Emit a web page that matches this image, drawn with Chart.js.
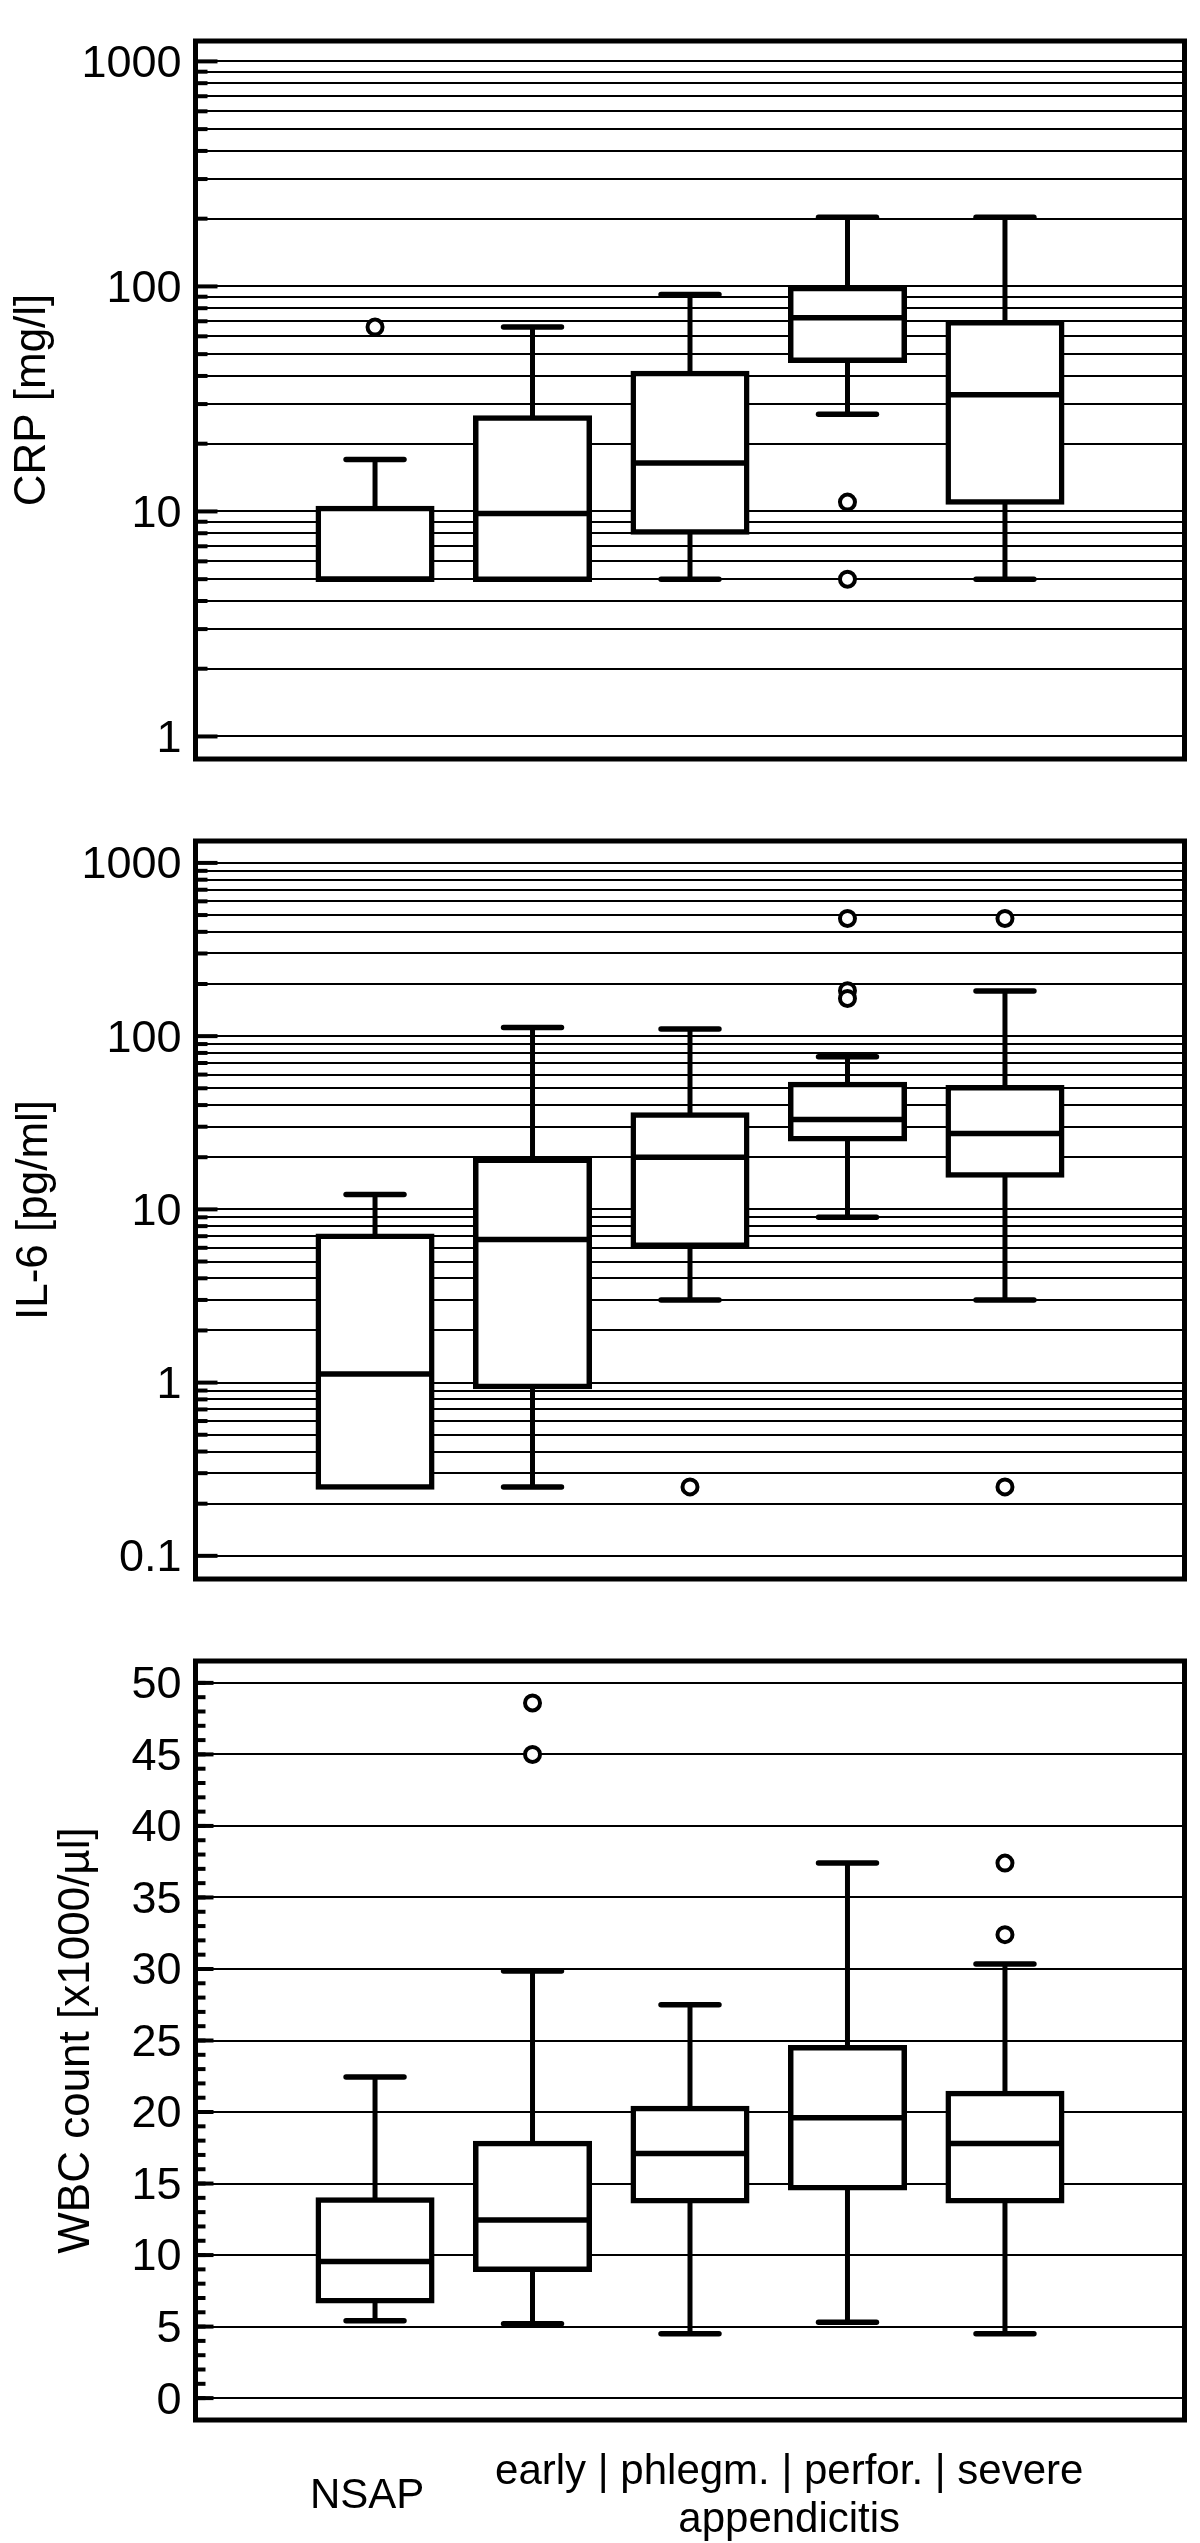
<!DOCTYPE html>
<html>
<head>
<meta charset="utf-8">
<title>CRP, IL-6 and WBC count</title>
<script src="https://cdn.jsdelivr.net/npm/chart.js@4"></script>
<style>
  body { margin: 0; background: #fff; }
  canvas { display: block; }
</style>
</head>
<body>
<canvas id="crp" width="1200" height="800"></canvas>
<canvas id="il6" width="1200" height="820"></canvas>
<canvas id="wbc" width="1200" height="923"></canvas>
<script>
// groups, left to right (x = 1..5)
const groups = ['NSAP', 'early', 'phlegm.', 'perfor.', 'severe'];

// CRP [mg/l]
const crpLow = [5, 5, 5, 27, 5];
const crpQ1 = [5, 5, 8.1, 47, 11];
const crpMed = [5, 9.8, 16.4, 72.5, 33];
const crpQ3 = [10.3, 26, 41, 98, 69];
const crpHigh = [17, 66, 92, 203, 203];
const crpOut = [[66], [], [], [11, 5], []];
const crpTicks = [1, 10, 100, 1000];

// IL-6 [pg/ml]
const il6Low = [0.25, 0.25, 3.0, 9.0, 3.0];
const il6Q1 = [0.25, 0.95, 6.2, 25.6, 15.8];
const il6Med = [1.12, 6.7, 20, 33, 27.4];
const il6Q3 = [7.0, 19.2, 35, 52.5, 50.4];
const il6High = [12.2, 112, 110, 76, 182];
const il6Out = [[], [], [0.25], [478, 183, 165], [478, 0.25]];
const il6Ticks = [0.1, 1, 10, 100, 1000];

// WBC count [x1000/µl]
const wbcLow = [5.4, 5.2, 4.5, 5.3, 4.5];
const wbcQ1 = [6.8, 9.0, 13.8, 14.7, 13.8];
const wbcMed = [9.55, 12.45, 17.1, 19.6, 17.8];
const wbcQ3 = [13.85, 17.8, 20.25, 24.5, 21.3];
const wbcHigh = [22.45, 29.85, 27.5, 37.4, 30.35];
const wbcOut = [[], [48.6, 45], [], [], [37.4, 32.4]];
const wbcTicks = [0, 5, 10, 15, 20, 25, 30, 35, 40, 45, 50];

// x axis labels (bottom panel only)
const xLabels = ['NSAP', ['early | phlegm. | perfor. | severe', 'appendicitis']];
const xLabelAt = [0.95, 3.63];
const xMin = -0.14, xMax = 6.14;

Chart.defaults.font.family = "'Liberation Sans', Arial, sans-serif";
Chart.defaults.color = '#000';

// 1..9 x each decade, for the log gridlines
function logGrid(decades) {
  const out = [];
  decades.forEach((d, k) => {
    if (k === decades.length - 1) { out.push(d); return; }
    for (let n = 1; n <= 9; n++) out.push(Number((n * d).toPrecision(6)));
  });
  return out;
}

function seg(ctx, x1, y1, x2, y2) {
  ctx.beginPath();
  ctx.moveTo(x1, y1);
  ctx.lineTo(x2, y2);
  ctx.stroke();
}

// whiskers, medians, inner ticks and the frame
const boxPlugin = {
  id: 'boxplot',
  afterDatasetsDraw(chart, args, o) {
    const {ctx, scales: {x, y}} = chart;
    const bars = chart.getDatasetMeta(0).data;
    ctx.save();
    ctx.strokeStyle = '#000';
    o.med.forEach((m, i) => {
      const cx = x.getPixelForValue(i + 1);
      const hw = bars[i].width / 2;
      const yHi = y.getPixelForValue(o.hi[i]);
      const yQ3 = y.getPixelForValue(o.q3[i]);
      const yQ1 = y.getPixelForValue(o.q1[i]);
      const yLo = y.getPixelForValue(o.lo[i]);
      ctx.lineCap = 'butt';
      ctx.lineWidth = 5;
      seg(ctx, cx, yHi, cx, yQ3);
      seg(ctx, cx, yQ1, cx, yLo);
      ctx.lineCap = 'round';
      ctx.lineWidth = 5.5;
      if (o.hi[i] > o.q3[i]) seg(ctx, cx - hw * 0.51, yHi, cx + hw * 0.51, yHi);
      if (o.lo[i] < o.q1[i]) seg(ctx, cx - hw * 0.51, yLo, cx + hw * 0.51, yLo);
      ctx.lineCap = 'butt';
      const ym = y.getPixelForValue(m);
      seg(ctx, cx - hw, ym, cx + hw, ym);
    });
    ctx.restore();
  },
  afterDraw(chart, args, o) {
    const {ctx, chartArea: a, scales: {y}} = chart;
    ctx.save();
    ctx.strokeStyle = '#000';
    ctx.lineWidth = 4;
    const tickAt = (v, len) => {
      const py = y.getPixelForValue(v);
      seg(ctx, a.left, py, a.left + len, py);
    };
    if (o.minorStep) {
      const first = o.labels[0], last = o.labels[o.labels.length - 1];
      for (let v = first; v <= last; v += o.minorStep) tickAt(v, o.minorLen);
    } else {
      y.ticks.forEach(t => { if (!o.labels.includes(t.value)) tickAt(t.value, o.minorLen); });
    }
    o.labels.forEach(v => tickAt(v, o.majorLen));
    ctx.lineWidth = 5;
    ctx.strokeRect(a.left, a.top, a.right - a.left, a.bottom - a.top);
    ctx.restore();
  }
};

function makePanel(id, p) {
  new Chart(document.getElementById(id), {
    type: 'bar',
    data: {
      datasets: [
        {
          data: p.q1.map((v, i) => ({x: i + 1, y: [v, p.q3[i]]})),
          backgroundColor: '#fff',
          borderColor: '#000',
          borderWidth: 5.5,
          borderSkipped: false,
          inflateAmount: 2.75,
          barPercentage: 0.721,
          categoryPercentage: 1,
          order: 2
        },
        {
          type: 'line',
          data: p.out.flatMap((vals, i) => vals.map(v => ({x: i + 1, y: v}))),
          showLine: false,
          pointRadius: 7.5,
          pointBorderWidth: 4,
          pointBackgroundColor: '#fff',
          pointBorderColor: '#000',
          order: 1
        }
      ]
    },
    options: {
      responsive: false,
      animation: false,
      layout: { padding: p.pad },
      plugins: {
        legend: { display: false },
        tooltip: { enabled: false },
        boxplot: {
          lo: p.lo, q1: p.q1, med: p.med, q3: p.q3, hi: p.hi,
          labels: p.labels, majorLen: p.majorLen, minorLen: p.minorLen, minorStep: p.minorStep
        }
      },
      scales: {
        x: {
          type: 'linear',
          min: xMin,
          max: xMax,
          offset: false,
          display: !!p.showX,
          grid: { display: false },
          border: { display: false },
          afterBuildTicks: s => { s.ticks = xLabelAt.map(v => ({value: v})); },
          afterFit: s => { if (p.showX) s.height = 123; },
          ticks: {
            autoSkip: false,
            maxRotation: 0,
            minRotation: 0,
            crossAlign: 'center',
            padding: 44,
            font: { size: 42, lineHeight: '48px' },
            callback: (v, i) => xLabels[i]
          }
        },
        y: {
          type: p.log ? 'logarithmic' : 'linear',
          min: p.min,
          max: p.max,
          beginAtZero: false,
          afterFit: s => { s.width = 195.5; },
          afterBuildTicks: s => { s.ticks = p.grid.map(v => ({value: v, major: p.labels.includes(v)})); },
          grid: { color: '#000', lineWidth: 2, drawTicks: false },
          border: { display: false },
          ticks: {
            autoSkip: false,
            padding: 14,
            labelOffset: 3,
            font: { size: 45 },
            callback: v => p.labels.includes(v) ? String(v) : ''
          },
          title: {
            display: true,
            text: p.title,
            font: { size: 44, lineHeight: 1 },
            padding: { top: p.titlePad, bottom: 0 }
          }
        }
      }
    },
    plugins: [boxPlugin]
  });
}

makePanel('crp', {
  log: true, min: 0.794, max: 1232,
  labels: crpTicks, grid: logGrid(crpTicks),
  title: 'CRP [mg/l]', titlePad: 11,
  pad: { top: 15, right: 15.5, bottom: 22, left: 0 },
  lo: crpLow, q1: crpQ1, med: crpMed, q3: crpQ3, hi: crpHigh, out: crpOut,
  majorLen: 22, minorLen: 12
});

makePanel('il6', {
  log: true, min: 0.0735, max: 1338,
  labels: il6Ticks, grid: logGrid(il6Ticks),
  title: 'IL-6 [pg/ml]', titlePad: 12.5,
  pad: { top: 30, right: 15.5, bottom: 26, left: 0 },
  lo: il6Low, q1: il6Q1, med: il6Med, q3: il6Q3, hi: il6High, out: il6Out,
  majorLen: 22, minorLen: 12
});

makePanel('wbc', {
  log: false, min: -1.53, max: 51.53,
  labels: wbcTicks, grid: wbcTicks,
  title: 'WBC count [x1000/µl]', titlePad: 55,
  pad: { top: 38, right: 15.5, bottom: 0, left: 0 },
  lo: wbcLow, q1: wbcQ1, med: wbcMed, q3: wbcQ3, hi: wbcHigh, out: wbcOut,
  majorLen: 18, minorLen: 10, minorStep: 1,
  showX: true
});
</script>
</body>
</html>
